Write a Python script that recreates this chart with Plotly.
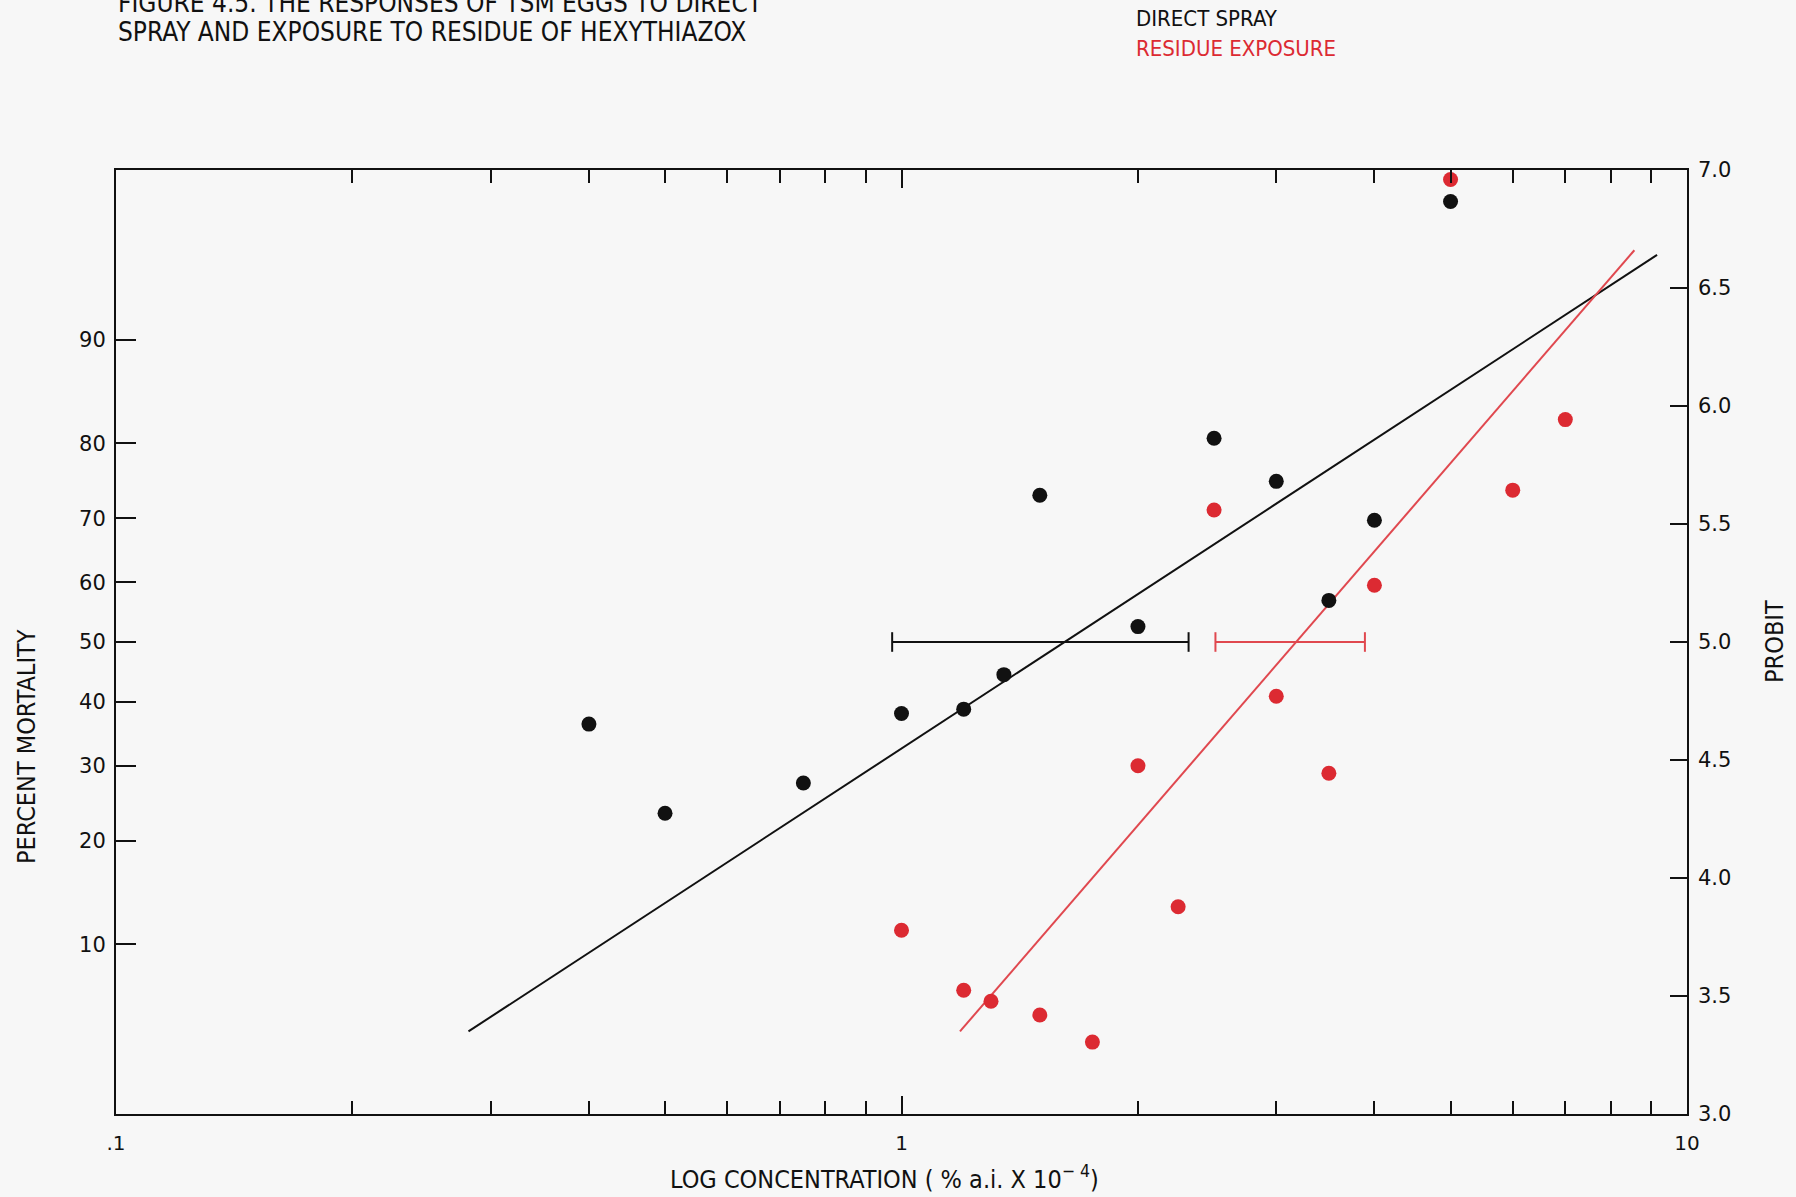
import plotly.graph_objects as go
from statistics import NormalDist

# ---------------- data ----------------
direct_conc = [0.40, 0.50, 0.75, 1.0, 1.2, 1.35, 1.5, 2.0, 2.5, 3.0, 3.5, 4.0, 5.0]
direct_mort = [36.4, 23.4, 27.5, 38.1, 38.8, 44.5, 73.3, 52.6, 80.6, 75.2, 57.0, 69.7, 96.9]

residue_conc = [1.0, 1.2, 1.3, 1.5, 1.75, 2.0, 2.25, 2.5, 3.0, 3.5, 4.0, 5.0, 6.0, 7.0]
residue_mort = [11.1, 7.0, 6.4, 5.7, 4.5, 30.0, 13.1, 71.2, 40.9, 28.9, 59.5, 97.5, 74.0, 82.7]

# fitted probit regression lines (concentration, probit)
direct_fit_conc = [0.281, 9.16]
direct_fit_probit = [3.35, 6.64]
residue_fit_conc = [1.187, 8.57]
residue_fit_probit = [3.35, 6.66]

# LC50 fiducial limits (drawn at probit 5)
direct_ci = [0.973, 2.32]
residue_ci = [2.51, 3.89]
ci_probit = 5.0

pct_ticks = [10, 20, 30, 40, 50, 60, 70, 80, 90]
probit_ticks = [3.0, 3.5, 4.0, 4.5, 5.0, 5.5, 6.0, 6.5, 7.0]
x_major = [0.1, 1, 10]
x_major_text = [".1", "1", "10"]
x_minor = [m * d for d in (0.1, 1) for m in range(2, 10)]

# ---------------- helpers ----------------
nd = NormalDist()
def probit(p):
    return 5.0 + nd.inv_cdf(p / 100.0)

BLACK = "#111111"
RED = "#dc2a32"
RED_LINE = "#e0484f"
BG = "#f7f7f7"
W, H = 1796, 1197
L, R, T, B = 116, 1687, 170, 1114

def px(xp):
    return (xp - L) / (R - L)
def py(yp):
    return (B - yp) / (B - T)

TXT = "Liberation Sans Narrow, DejaVu Sans Condensed, Arial Narrow, sans-serif"
NUM = "DejaVu Sans, Verdana, sans-serif"

fig = go.Figure()

fig.add_trace(go.Scatter(x=direct_fit_conc, y=direct_fit_probit, mode="lines",
                         line=dict(color=BLACK, width=2), showlegend=False))
fig.add_trace(go.Scatter(x=residue_fit_conc, y=residue_fit_probit, mode="lines",
                         line=dict(color=RED_LINE, width=2), showlegend=False))

for ci, col in ((direct_ci, BLACK), (residue_ci, RED_LINE)):
    fig.add_trace(go.Scatter(x=ci, y=[ci_probit, ci_probit], mode="lines+markers",
                             line=dict(color=col, width=2),
                             marker=dict(symbol="line-ns", size=14,
                                         line=dict(color=col, width=2)),
                             showlegend=False))

fig.add_trace(go.Scatter(x=residue_conc, y=[probit(v) for v in residue_mort], mode="markers",
                         marker=dict(color=RED, size=15), showlegend=False, cliponaxis=False))
fig.add_trace(go.Scatter(x=direct_conc, y=[probit(v) for v in direct_mort], mode="markers",
                         marker=dict(color=BLACK, size=15), showlegend=False, cliponaxis=False))

# invisible trace for the right axis
fig.add_trace(go.Scatter(x=[1], y=[5], yaxis="y2", mode="markers",
                         marker=dict(opacity=0), showlegend=False, hoverinfo="skip"))

fig.update_layout(
    width=W, height=H,
    paper_bgcolor=BG, plot_bgcolor=BG,
    margin=dict(l=L, r=W - R, t=T, b=H - B),
    xaxis=dict(type="log", range=[-1, 1], showgrid=False, zeroline=False,
               showline=True, linecolor=BLACK, linewidth=2, mirror="ticks",
               ticks="inside", ticklen=18, tickwidth=1.5, tickcolor=BLACK,
               tickvals=x_major, ticktext=x_major_text, ticklabelstandoff=10,
               tickfont=dict(family=NUM, size=20, color=BLACK),
               minor=dict(tickvals=x_minor, ticks="inside", ticklen=13,
                          tickwidth=1.5, tickcolor=BLACK, showgrid=False)),
    yaxis=dict(range=[3, 7], showgrid=False, zeroline=False,
               showline=True, linecolor=BLACK, linewidth=2, mirror=True,
               ticks="inside", ticklen=20, tickwidth=1.5, tickcolor=BLACK,
               tickvals=[probit(v) for v in pct_ticks],
               ticktext=[str(v) for v in pct_ticks], ticklabelstandoff=4,
               tickfont=dict(family=NUM, size=21, color=BLACK)),
    yaxis2=dict(range=[3, 7], overlaying="y", side="right", showgrid=False,
                zeroline=False, showline=False,
                ticks="inside", ticklen=17, tickwidth=1.5, tickcolor=BLACK,
                tickvals=probit_ticks, ticktext=[f"{v:.1f}" for v in probit_ticks],
                ticklabelstandoff=10,
                tickfont=dict(family=NUM, size=21, color=BLACK)),
)

ann = [
    dict(text="FIGURE 4.5. THE RESPONSES OF TSM EGGS TO DIRECT", x=px(116), y=py(3),
         xanchor="left", yanchor="middle", font=dict(family=TXT, size=26, color=BLACK)),
    dict(text="SPRAY AND EXPOSURE TO RESIDUE OF HEXYTHIAZOX", x=px(116), y=py(32),
         xanchor="left", yanchor="middle", font=dict(family=TXT, size=26, color=BLACK)),
    dict(text="DIRECT SPRAY", x=px(1134), y=py(18), xanchor="left", yanchor="middle",
         font=dict(family=TXT, size=22, color=BLACK)),
    dict(text="RESIDUE EXPOSURE", x=px(1134), y=py(48), xanchor="left", yanchor="middle",
         font=dict(family=TXT, size=22, color=RED)),
    dict(text="PERCENT MORTALITY", x=px(26), y=py(747), textangle=-90,
         xanchor="center", yanchor="middle", font=dict(family=TXT, size=25, color=BLACK)),
    dict(text="PROBIT", x=px(1774), y=py(642), textangle=-90,
         xanchor="center", yanchor="middle", font=dict(family=TXT, size=25, color=BLACK)),
    dict(text="LOG CONCENTRATION ( % a.i. X 10<sup>\u2212 4</sup>)", x=px(884), y=py(1177),
         xanchor="center", yanchor="middle", font=dict(family=TXT, size=25, color=BLACK)),
]
for a in ann:
    a.update(xref="paper", yref="paper", showarrow=False)
fig.update_layout(annotations=ann)

fig.write_html("out.html")
